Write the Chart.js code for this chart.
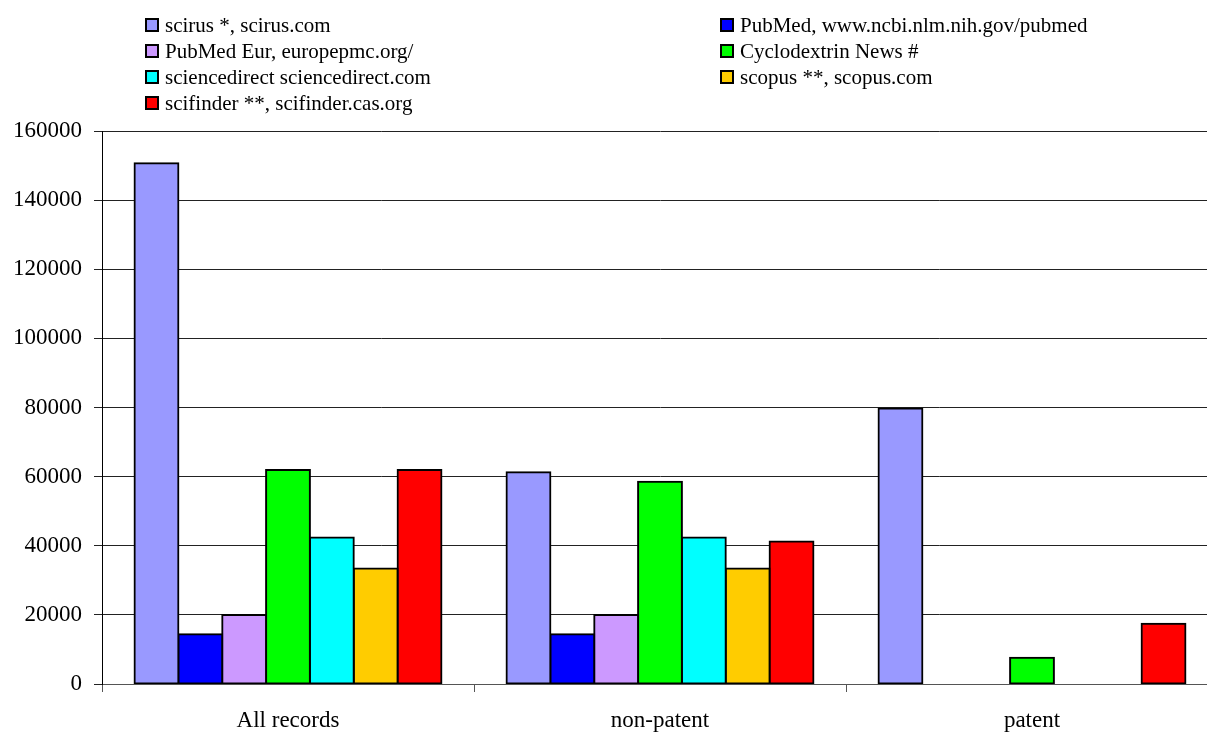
<!DOCTYPE html>
<html>
<head>
<meta charset="utf-8">
<script src="https://cdn.jsdelivr.net/npm/chart.js@4/dist/chart.umd.min.js"></script>
<style>
  html, body { margin: 0; padding: 0; background: #fff; overflow: hidden; }
  #wrap { width: 1218px; height: 733px; }
</style>
</head>
<body>
<div id="wrap"><canvas id="c" width="1218" height="733"></canvas></div>
<script>
const categories = ['All records', 'non-patent', 'patent'];

const seriesNames = [
  'scirus *, scirus.com',
  'PubMed, www.ncbi.nlm.nih.gov/pubmed',
  'PubMed Eur, europepmc.org/',
  'Cyclodextrin News #',
  'sciencedirect sciencedirect.com',
  'scopus **, scopus.com',
  'scifinder **, scifinder.cas.org'
];

const scirus        = [150700, 61300, 79700];
const pubmed        = [14400, 14400, null];
const pubmedEur     = [20000, 20000, null];
const cyclodextrin  = [61900, 58500, 7600];
const sciencedirect = [42400, 42400, null];
const scopus        = [33400, 33400, null];
const scifinder     = [61900, 41200, 17400];

const yMax = 160000;
const yStep = 20000;

const palette = ['#9999FF', '#0000FF', '#CC99FF', '#00FF00', '#00FFFF', '#FFCC00', '#FF0000'];
const allSeries = [scirus, pubmed, pubmedEur, cyclodextrin, sciencedirect, scopus, scifinder];

const FONT = "'Liberation Serif', 'Times New Roman', serif";
Chart.defaults.color = '#000';
Chart.defaults.font.family = FONT;

// legend in two columns, row by row, like the original
const gridLegend = {
  id: 'gridLegend',
  afterDraw(chart) {
    const ctx = chart.ctx;
    const colX = [145, 720];
    const baseY = 32, rowH = 26.1, box = 14;
    ctx.save();
    ctx.font = '21px ' + FONT;
    ctx.textBaseline = 'alphabetic';
    ctx.textAlign = 'left';
    chart.data.datasets.forEach((ds, i) => {
      const x = colX[i % 2];
      const y = Math.round(baseY + Math.floor(i / 2) * rowH);
      ctx.fillStyle = ds.backgroundColor;
      ctx.fillRect(x, y - box, box, box);
      ctx.lineWidth = 2;
      ctx.strokeStyle = '#000';
      ctx.strokeRect(x + 1, y - box + 1, box - 2, box - 2);
      ctx.fillStyle = '#000';
      ctx.fillText(ds.label, x + 20, y);
    });
    ctx.restore();
  }
};

new Chart(document.getElementById('c'), {
  type: 'bar',
  data: {
    labels: categories,
    datasets: allSeries.map((d, i) => ({
      label: seriesNames[i],
      data: d,
      backgroundColor: palette[i],
      borderColor: '#000',
      borderWidth: 2,
      borderSkipped: false,
      inflateAmount: 1,
      categoryPercentage: 0.825,
      barPercentage: 1
    }))
  },
  options: {
    responsive: false,
    animation: false,
    layout: { padding: { top: 131, left: 0, right: 0, bottom: 0 } },
    plugins: {
      legend: { display: false },
      tooltip: { enabled: false }
    },
    scales: {
      x: {
        grid: { drawOnChartArea: false, drawTicks: true, tickLength: 8, color: '#555' },
        border: { display: true, color: '#555' },
        ticks: { font: { size: 23 }, padding: 15, color: '#000' },
        afterFit: (s) => { s.height = 49; }
      },
      y: {
        min: 0,
        max: yMax,
        grid: { color: '#222', lineWidth: 1, tickLength: 8 },
        border: { display: true, color: '#000' },
        ticks: {
          stepSize: yStep,
          font: { size: 23 },
          padding: 12,
          color: '#000',
          callback: (v) => String(v)
        },
        afterFit: (s) => { s.width = 102; }
      }
    }
  },
  plugins: [gridLegend]
});
</script>
</body>
</html>
